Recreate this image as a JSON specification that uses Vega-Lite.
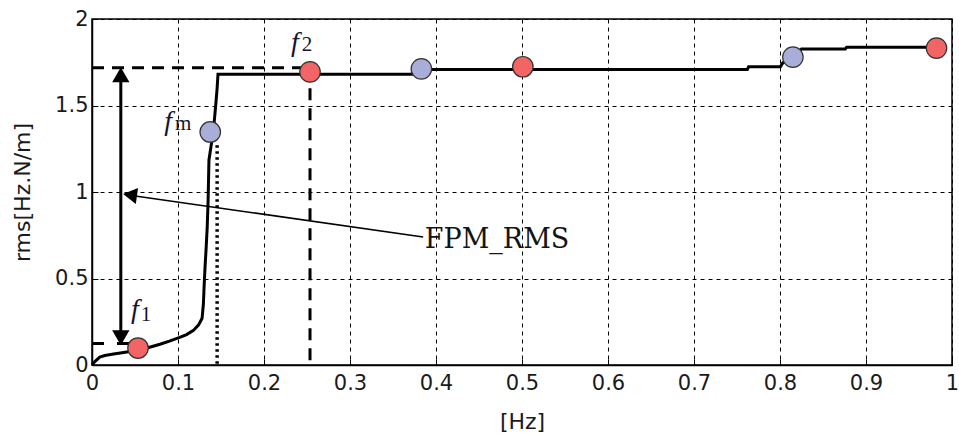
{
  "$schema": "https://vega.github.io/schema/vega-lite/v6.json",
  "width": 860,
  "height": 346,
  "autosize": "none",
  "padding": {"left": 92, "top": 19, "right": 7, "bottom": 71},
  "background": "white",
  "config": {
    "view": {"stroke": "black", "strokeWidth": 1.5},
    "axis": {
      "domainColor": "black",
      "domainWidth": 1.5,
      "tickColor": "black",
      "tickSize": -6,
      "tickWidth": 1,
      "gridColor": "black",
      "gridDash": [4, 4],
      "gridWidth": 1,
      "gridOpacity": 1,
      "labelFont": "DejaVu Sans",
      "labelFontSize": 21,
      "labelColor": "#1a1a1a",
      "titleFont": "DejaVu Sans",
      "titleFontSize": 22,
      "titleFontWeight": "normal",
      "titleColor": "#1a1a1a"
    }
  },
  "datasets": {
    "curve": [
      {"x": 0, "y": 0}, {"x": 0.003, "y": 0.018}, {"x": 0.009, "y": 0.046}, {"x": 0.015, "y": 0.055},
      {"x": 0.025, "y": 0.063}, {"x": 0.035, "y": 0.071}, {"x": 0.044, "y": 0.078}, {"x": 0.055, "y": 0.088},
      {"x": 0.065, "y": 0.1}, {"x": 0.079, "y": 0.12}, {"x": 0.09, "y": 0.138}, {"x": 0.102, "y": 0.16},
      {"x": 0.11, "y": 0.176}, {"x": 0.118, "y": 0.2}, {"x": 0.124, "y": 0.232}, {"x": 0.128, "y": 0.27},
      {"x": 0.1295, "y": 0.35}, {"x": 0.1305, "y": 0.47}, {"x": 0.1316, "y": 0.58}, {"x": 0.1326, "y": 0.665},
      {"x": 0.134, "y": 0.8}, {"x": 0.135, "y": 0.95}, {"x": 0.136, "y": 1.185}, {"x": 0.1395, "y": 1.3},
      {"x": 0.142, "y": 1.4}, {"x": 0.144, "y": 1.51}, {"x": 0.1455, "y": 1.6}, {"x": 0.1465, "y": 1.68},
      {"x": 0.372, "y": 1.68}, {"x": 0.3735, "y": 1.708}, {"x": 0.762, "y": 1.708}, {"x": 0.7635, "y": 1.724},
      {"x": 0.8005, "y": 1.724}, {"x": 0.803, "y": 1.745}, {"x": 0.81, "y": 1.77}, {"x": 0.818, "y": 1.8},
      {"x": 0.825, "y": 1.827}, {"x": 0.876, "y": 1.827}, {"x": 0.8775, "y": 1.837}, {"x": 0.981, "y": 1.837}
    ],
    "markers": [
      {"x": 0.0535, "y": 0.098, "kind": "red"},
      {"x": 0.1375, "y": 1.347, "kind": "blue"},
      {"x": 0.2535, "y": 1.694, "kind": "red"},
      {"x": 0.383, "y": 1.712, "kind": "blue"},
      {"x": 0.501, "y": 1.724, "kind": "red"},
      {"x": 0.815, "y": 1.78, "kind": "blue"},
      {"x": 0.982, "y": 1.832, "kind": "red"}
    ],
    "thickDash": [
      {"x": 0, "y": 1.718, "x2": 0.25, "y2": 1.718},
      {"x": 0.2535, "y": 1.6, "x2": 0.2535, "y2": 0}
    ],
    "dotted": [
      {"x": 0.1455, "y": 1.27, "x2": 0.1455, "y2": 0}
    ],
    "shortDash": [
      {"x": 0, "y": 0.125, "x2": 0.046, "y2": 0.125}
    ],
    "doubleArrow": [
      {"x": 0.0335, "y": 0.15, "x2": 0.0335, "y2": 1.69}
    ],
    "doubleHeads": [
      {"x": 0.0335, "y": 1.678, "dir": "up"},
      {"x": 0.0335, "y": 0.158, "dir": "down"}
    ],
    "fpmArrow": [
      {"x": 0.04, "y": 0.984, "x2": 0.385, "y2": 0.74}
    ],
    "fpmHead": [
      {"x": 0.0442, "y": 0.983}
    ],
    "fLabels": [
      {"x": 0.05, "y": 0.318, "text": "f"},
      {"x": 0.0884, "y": 1.405, "text": "f"},
      {"x": 0.236, "y": 1.861, "text": "f"}
    ],
    "subLabels": [
      {"x": 0.0628, "y": 0.289, "text": "1"},
      {"x": 0.106, "y": 1.395, "text": "m"},
      {"x": 0.25, "y": 1.85, "text": "2"}
    ],
    "note": [
      {"x": 0.387, "y": 0.72, "text": "FPM_RMS"}
    ]
  },
  "encoding": {
    "x": {
      "field": "x", "type": "quantitative",
      "scale": {"domain": [0, 1], "nice": false, "zero": false},
      "axis": {
        "title": "[Hz]",
        "values": [0, 0.1, 0.2, 0.3, 0.4, 0.5, 0.6, 0.7, 0.8, 0.9, 1],
        "format": ".1~f",
        "labelPadding": 13,
        "titlePadding": 18,
        "labelFlush": false
      }
    },
    "y": {
      "field": "y", "type": "quantitative",
      "scale": {"domain": [0, 2], "nice": false, "zero": false},
      "axis": {
        "title": "rms[Hz.N/m]",
        "values": [0, 0.5, 1, 1.5, 2],
        "format": ".1~f",
        "labelPadding": 10,
        "titlePadding": 20,
        "labelFlush": false
      }
    }
  },
  "layer": [
    {
      "data": {"name": "thickDash"},
      "mark": {"type": "rule", "color": "black", "strokeWidth": 3, "strokeDash": [12, 8]},
      "encoding": {"x2": {"field": "x2"}, "y2": {"field": "y2"}}
    },
    {
      "data": {"name": "dotted"},
      "mark": {"type": "rule", "color": "black", "strokeWidth": 3.5, "strokeDash": [2.5, 3.5]},
      "encoding": {"x2": {"field": "x2"}, "y2": {"field": "y2"}}
    },
    {
      "data": {"name": "shortDash"},
      "mark": {"type": "rule", "color": "black", "strokeWidth": 3, "strokeDash": [12, 13]},
      "encoding": {"x2": {"field": "x2"}, "y2": {"field": "y2"}}
    },
    {
      "data": {"name": "doubleArrow"},
      "mark": {"type": "rule", "color": "black", "strokeWidth": 3},
      "encoding": {"x2": {"field": "x2"}, "y2": {"field": "y2"}}
    },
    {
      "data": {"name": "doubleHeads"},
      "mark": {"type": "point", "filled": true, "color": "black", "size": 300, "opacity": 1},
      "encoding": {
        "shape": {"field": "dir", "type": "nominal", "scale": {"domain": ["up", "down"], "range": ["triangle-up", "triangle-down"]}, "legend": null}
      }
    },
    {
      "data": {"name": "fpmArrow"},
      "mark": {"type": "rule", "color": "black", "strokeWidth": 1.6},
      "encoding": {"x2": {"field": "x2"}, "y2": {"field": "y2"}}
    },
    {
      "data": {"name": "fpmHead"},
      "mark": {"type": "point", "filled": true, "color": "black", "size": 260, "shape": "triangle-left", "angle": 8, "opacity": 1}
    },
    {
      "data": {"name": "curve"},
      "mark": {"type": "line", "color": "black", "strokeWidth": 3},
      "encoding": {}
    },
    {
      "data": {"name": "markers"},
      "mark": {"type": "point", "filled": true, "size": 420, "stroke": "#333333", "strokeWidth": 1.2, "opacity": 1},
      "encoding": {
        "fill": {"field": "kind", "type": "nominal", "scale": {"domain": ["red", "blue"], "range": ["#f36464", "#a9aed9"]}, "legend": null}
      }
    },
    {
      "data": {"name": "fLabels"},
      "mark": {"type": "text", "font": "Liberation Serif", "fontStyle": "italic", "fontSize": 28, "align": "center", "baseline": "middle", "color": "#141430"},
      "encoding": {"text": {"field": "text"}}
    },
    {
      "data": {"name": "subLabels"},
      "mark": {"type": "text", "font": "Liberation Serif", "fontSize": 21, "align": "center", "baseline": "middle", "color": "#141430"},
      "encoding": {"text": {"field": "text"}}
    },
    {
      "data": {"name": "note"},
      "mark": {"type": "text", "font": "DejaVu Serif", "fontSize": 27, "align": "left", "baseline": "middle", "color": "#141414"},
      "encoding": {"text": {"field": "text"}}
    }
  ]
}
